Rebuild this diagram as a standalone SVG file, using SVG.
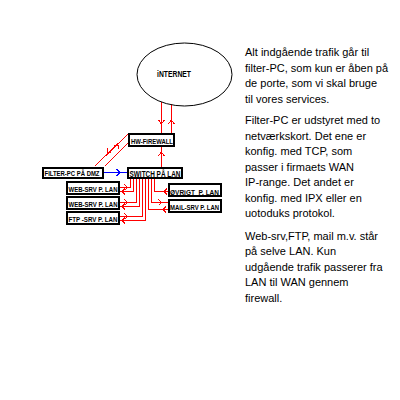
<svg xmlns="http://www.w3.org/2000/svg" width="400" height="400" viewBox="0 0 400 400">
<style>
.box{fill:#fff;stroke:#000;stroke-width:2}
.lbl{font-family:"Liberation Sans",Arial,sans-serif;font-size:7px;font-weight:bold;fill:#000}
.big{font-family:"Liberation Sans",Arial,sans-serif;font-size:9.5px;font-weight:bold;fill:#000}
.red{fill:none;stroke:#f00;stroke-width:1}
.blue{fill:none;stroke:#00f;stroke-width:1.3}
.para{font-family:"Liberation Sans",Arial,sans-serif;font-size:11px;fill:#000}
</style>
<rect width="400" height="400" fill="#fff"/>
<g id="connectors" shape-rendering="crispEdges">
  <line class="red" x1="161.5" y1="102" x2="161.5" y2="133"/>
  <polyline class="red" points="158.5,120 161.5,124 164.5,120"/>
  <line class="red" x1="171.5" y1="104" x2="171.5" y2="133"/>
  <polyline class="red" points="168.5,124 171.5,120 174.5,124"/>
  <line class="red" x1="161.5" y1="147" x2="161.5" y2="167"/>
  <polyline class="red" points="158.5,156 161.5,152 164.5,156"/>
  <line class="red" x1="95" y1="166" x2="128" y2="134"/>
  <polyline class="red" points="107,148 107,152 111,152"/>
  <line class="red" x1="105" y1="166" x2="128" y2="143"/>
  <polyline class="red" points="114,145 118,145 118,149"/>
  <line class="blue" x1="104" y1="172.5" x2="127" y2="172.5"/>
  <polyline class="blue" points="116.5,169 120,172.5 116.5,176"/>
  <polyline class="red" points="130.5,179 130.5,187.5 120,187.5"/>
  <polyline class="red" points="124.5,184.5 127.5,187.5 124.5,190.5"/>
  <polyline class="red" points="133.5,179 133.5,191.5 120,191.5"/>
  <polyline class="red" points="125,188.5 122,191.5 125,194.5"/>
  <polyline class="red" points="136.5,179 136.5,202.5 120,202.5"/>
  <polyline class="red" points="124.5,199.5 127.5,202.5 124.5,205.5"/>
  <polyline class="red" points="139.5,179 139.5,206.5 120,206.5"/>
  <polyline class="red" points="125,203.5 122,206.5 125,209.5"/>
  <polyline class="red" points="142.5,179 142.5,216.5 120,216.5"/>
  <polyline class="red" points="124.5,213.5 127.5,216.5 124.5,219.5"/>
  <polyline class="red" points="145.5,179 145.5,220.5 120,220.5"/>
  <polyline class="red" points="125,217.5 122,220.5 125,223.5"/>
  <polyline class="red" points="154.5,179 154.5,191.5 168,191.5"/>
  <polyline class="red" points="167,188.5 164,191.5 167,194.5"/>
  <polyline class="red" points="151.5,179 151.5,202.5 168,202.5"/>
  <polyline class="red" points="158.5,199.5 161.5,202.5 158.5,205.5"/>
  <polyline class="red" points="148.5,179 148.5,209.5 168,209.5"/>
  <polyline class="red" points="166,206.5 163,209.5 166,212.5"/>
</g>
<g id="internet">
  <ellipse cx="184.5" cy="74.5" rx="47.5" ry="31.5" fill="#fff" stroke="#000" stroke-width="1"/>
  <text class="big" x="174" y="76.5" text-anchor="middle" textLength="34" lengthAdjust="spacingAndGlyphs">iNTERNET</text>
</g>
<g id="firewall">
  <rect class="box" x="129" y="134" width="45" height="12"/>
  <text class="lbl" x="131" y="143.5" textLength="42" lengthAdjust="spacingAndGlyphs">HW-FiREWALL</text>
</g>
<g id="filter-pc">
  <rect class="box" x="43" y="168" width="60" height="10"/>
  <text class="lbl" x="44.5" y="176" textLength="55" lengthAdjust="spacingAndGlyphs">FILTER-PC PÅ DMZ</text>
</g>
<g id="switch">
  <rect class="box" x="128" y="168" width="54" height="10"/>
  <text class="big" x="129.5" y="176.5" textLength="51" lengthAdjust="spacingAndGlyphs">SWITCH PÅ LAN</text>
</g>
<g id="web1">
  <rect class="box" x="67" y="182" width="52" height="12"/>
  <text class="lbl" x="68.5" y="192" textLength="49" lengthAdjust="spacingAndGlyphs">WEB-SRV P. LAN</text>
</g>
<g id="web2">
  <rect class="box" x="67" y="197" width="52" height="12"/>
  <text class="lbl" x="68.5" y="207" textLength="49" lengthAdjust="spacingAndGlyphs">WEB-SRV P. LAN</text>
</g>
<g id="ftp">
  <rect class="box" x="67" y="212" width="52" height="12"/>
  <text class="lbl" x="68.5" y="222" textLength="49" lengthAdjust="spacingAndGlyphs" xml:space="preserve">FTP -SRV P. LAN</text>
</g>
<g id="ovrigt">
  <rect class="box" x="169" y="184" width="52" height="12"/>
  <text class="lbl" x="170" y="194.5" textLength="49" lengthAdjust="spacingAndGlyphs" xml:space="preserve">ØVRiGT  P. LAN</text>
</g>
<g id="mail">
  <rect class="box" x="169" y="200" width="52" height="12"/>
  <text class="lbl" x="170" y="210" textLength="49" lengthAdjust="spacingAndGlyphs">MAiL-SRV P. LAN</text>
</g>
<g id="notes">
  <text class="para" x="245" y="56">Alt indgående trafik går til</text>
  <text class="para" x="245" y="71.5">filter-PC, som kun er åben på</text>
  <text class="para" x="245" y="87">de porte, som vi skal bruge</text>
  <text class="para" x="245" y="102.5">til vores services.</text>
  <text class="para" x="245" y="124">Filter-PC er udstyret med to</text>
  <text class="para" x="245" y="139.5">netværkskort. Det ene er</text>
  <text class="para" x="245" y="155">konfig. med TCP, som</text>
  <text class="para" x="245" y="170.5">passer i firmaets WAN</text>
  <text class="para" x="245" y="186">IP-range. Det andet er</text>
  <text class="para" x="245" y="201.5">konfig. med IPX eller en</text>
  <text class="para" x="245" y="217">uotoduks protokol.</text>
  <text class="para" x="245" y="239.5">Web-srv,FTP, mail m.v. står</text>
  <text class="para" x="245" y="255">på selve LAN. Kun</text>
  <text class="para" x="245" y="270.5">udgående trafik passerer fra</text>
  <text class="para" x="245" y="286">LAN til WAN gennem</text>
  <text class="para" x="245" y="301.5">firewall.</text>
</g>
</svg>
